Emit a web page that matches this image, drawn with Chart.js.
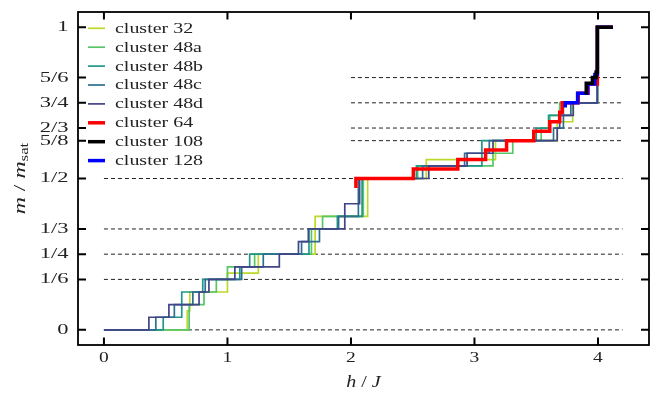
<!DOCTYPE html>
<html>
<head>
<meta charset="utf-8">
<script src="https://cdn.jsdelivr.net/npm/chart.js@4.4.1/dist/chart.umd.min.js"></script>
<style>
  html, body { margin: 0; padding: 0; background: #fff; }
  #wrap { width: 659px; height: 396px; }
</style>
</head>
<body>
<div id="wrap"><canvas id="magChart" width="659" height="396"></canvas></div>
<script>
// axis ticks
const fieldTicks = [0, 1, 2, 3, 4];
const fieldTickLabels = ["0", "1", "2", "3", "4"];
const magTicks = [0, 1/6, 1/4, 1/3, 1/2, 5/8, 2/3, 3/4, 5/6, 1];
const magTickLabels = ["0", "1/6", "1/4", "1/3", "1/2", "5/8", "2/3", "3/4", "5/6", "1"];

// dashed plateau guides
const lowPlateaus = [0, 1/6, 1/4, 1/3, 1/2];
const lowPlateauRange = [0, 4.2];
const highPlateaus = [5/8, 2/3, 3/4, 5/6];
const highPlateauRange = [2, 4.2];

const seriesNames = ["cluster 32", "cluster 48a", "cluster 48b", "cluster 48c",
                     "cluster 48d", "cluster 64", "cluster 108", "cluster 128"];
const seriesColors = ["#bcd92a", "#56c667", "#21978b", "#2e6e8e",
                      "#414487", "#ff0000", "#000000", "#0000ff"];

// step curves: field where the magnetization jumps, and level after the jump
// (levels given as numerators over the cluster's denominator)
const c32H  = [0, 0.675, 0.695, 1.00, 1.25, 1.71, 2.135, 2.61, 3.17, 3.67, 3.795, 3.995, 4.12];
const c32M  = [0, 1, 2, 3, 4, 6, 8, 9, 10, 11, 12, 16, 16];
const c32D  = 16;

const c48aH = [0, 0.69, 0.81, 0.91, 1.00, 1.22, 1.68, 1.77, 2.10, 2.54, 3.15, 3.31, 3.54, 3.61, 3.69, 3.995, 4.12];
const c48aM = [0, 2, 3, 4, 5, 6, 8, 9, 12, 13, 14, 15, 16, 17, 18, 24, 24];

const c48bH = [0, 0.48, 0.63, 0.80, 1.10, 1.18, 1.66, 1.89, 2.09, 2.53, 3.06, 3.50, 3.60, 3.72, 3.995, 4.12];
const c48bM = [0, 1, 3, 4, 5, 6, 8, 9, 12, 13, 15, 16, 17, 18, 24, 24];

const c48cH = [0, 0.42, 0.57, 0.72, 0.82, 1.115, 1.29, 1.60, 1.745, 1.90, 2.06, 2.58, 2.92, 3.12, 3.64, 3.72, 3.78, 3.995, 4.12];
const c48cM = [0, 1, 2, 3, 4, 5, 6, 7, 8, 9, 12, 13, 14, 15, 16, 17, 18, 24, 24];

const c48dH = [0, 0.364, 0.526, 0.77, 0.85, 1.06, 1.42, 1.575, 1.655, 1.95, 2.07, 2.63, 2.94, 3.15, 3.67, 3.69, 3.80, 3.995, 4.12];
const c48dM = [0, 1, 2, 3, 4, 5, 6, 7, 8, 10, 12, 13, 14, 15, 16, 17, 18, 24, 24];
const c48D  = 24;

const c64H  = [2.04, 2.04, 2.505, 2.865, 3.09, 3.26, 3.48, 3.61, 3.69, 3.71, 3.84, 3.92, 3.995, 4.12];
const c64M  = [15, 16, 17, 18, 19, 20, 21, 22, 23, 24, 25, 26, 32, 32];
const c64D  = 32;

const c108H = [3.905, 3.905, 3.955, 3.985, 3.995, 4.12];
const c108M = [42, 44, 45, 46, 54, 54];
const c108D = 54;

const c128H = [3.735, 3.735, 3.835, 3.915, 3.975, 3.995, 4.12];
const c128M = [47, 48, 50, 52, 54, 64, 64];
const c128D = 64;

const thinWidth = 1.7;
const thickWidth = 3.5;
const seriesWidths = [thinWidth, thinWidth, thinWidth, thinWidth, thinWidth, thickWidth, thickWidth, thickWidth];

function toPoints(hs, ms, denom) {
    return hs.map((h, i) => ({ x: h, y: ms[i] / denom }));
}

const curveData = [
    toPoints(c32H, c32M, c32D),
    toPoints(c48aH, c48aM, c48D),
    toPoints(c48bH, c48bM, c48D),
    toPoints(c48cH, c48cM, c48D),
    toPoints(c48dH, c48dM, c48D),
    toPoints(c64H, c64M, c64D),
    toPoints(c108H, c108M, c108D),
    toPoints(c128H, c128M, c128D),
];
// stacking: black on top, then blue, red, 48d ... 32 at the bottom
const drawOrder = [8, 7, 6, 5, 4, 3, 1, 2];

const datasets = curveData.map((pts, i) => ({
    label: seriesNames[i],
    data: pts,
    borderColor: seriesColors[i],
    borderWidth: seriesWidths[i],
    stepped: "before",
    pointRadius: 0,
    fill: false,
    order: drawOrder[i],
    borderJoinStyle: "miter",
}));

function plateauSet(level, range) {
    return {
        label: "",
        data: [{ x: range[0], y: level }, { x: range[1], y: level }],
        borderColor: "#222",
        borderWidth: 1,
        borderDash: [4, 3],
        pointRadius: 0,
        fill: false,
        order: 20,
    };
}
lowPlateaus.forEach(v => datasets.push(plateauSet(v, lowPlateauRange)));
highPlateaus.forEach(v => datasets.push(plateauSet(v, highPlateauRange)));

const serif = "Liberation Serif";
const textColor = "#222";

// the reference lettering is wide, so text is drawn stretched sideways
function wideText(ctx, text, x, y, align, sx) {
    const w = ctx.measureText(text).width * sx;
    const left = align === "right" ? x - w : align === "center" ? x - w / 2 : x;
    ctx.save();
    ctx.translate(left, y);
    ctx.scale(sx, 1);
    ctx.textAlign = "left";
    ctx.fillText(text, 0, 0);
    ctx.restore();
    return w;
}

// frame with inward ticks on all four sides, plus tick labels
const frameTicks = {
    id: "frameTicks",
    afterDatasetsDraw(chart) {
        const { ctx, chartArea: a, scales } = chart;
        ctx.save();
        ctx.strokeStyle = "#000";
        ctx.lineWidth = 1.8;
        ctx.strokeRect(a.left, a.top, a.right - a.left, a.bottom - a.top);
        ctx.lineWidth = 2;
        ctx.beginPath();
        fieldTicks.forEach(v => {
            const x = scales.x.getPixelForValue(v);
            ctx.moveTo(x, a.bottom); ctx.lineTo(x, a.bottom - 7.5);
            ctx.moveTo(x, a.top); ctx.lineTo(x, a.top + 7.5);
        });
        magTicks.forEach(v => {
            const y = scales.y.getPixelForValue(v);
            ctx.moveTo(a.left, y); ctx.lineTo(a.left + 8, y);
            ctx.moveTo(a.right, y); ctx.lineTo(a.right - 8, y);
        });
        ctx.stroke();

        ctx.fillStyle = textColor;
        ctx.font = `15px "${serif}"`;
        ctx.textBaseline = "middle";
        fieldTicks.forEach((v, i) => {
            wideText(ctx, fieldTickLabels[i], scales.x.getPixelForValue(v), a.bottom + 13.5, "center", 1.3);
        });
        magTicks.forEach((v, i) => {
            wideText(ctx, magTickLabels[i], a.left - 9.5, scales.y.getPixelForValue(v), "right", 1.5);
        });
        ctx.restore();
    }
};

// legend inside the plot and the two axis titles
const labelsPlugin = {
    id: "labelsPlugin",
    afterDraw(chart) {
        const { ctx, chartArea: a } = chart;
        ctx.save();
        ctx.textBaseline = "middle";
        ctx.fillStyle = textColor;
        ctx.font = `15px "${serif}"`;
        seriesNames.forEach((name, i) => {
            const y = 28.3 + i * 18.9;
            ctx.strokeStyle = seriesColors[i];
            ctx.lineWidth = seriesWidths[i];
            ctx.beginPath();
            ctx.moveTo(88, y);
            ctx.lineTo(105, y);
            ctx.stroke();
            wideText(ctx, name, 115, y + 0.5, "left", 1.33);
        });

        // x title: h / J
        const parts = [
            { t: "h", f: `italic 16px "${serif}"` },
            { t: " / ", f: `16px "${serif}"` },
            { t: "J", f: `italic 16px "${serif}"` },
        ];
        const sx = 1.25;
        let w = 0;
        parts.forEach(p => { ctx.font = p.f; w += ctx.measureText(p.t).width * sx; });
        let x = (a.left + a.right) / 2 - w / 2;
        parts.forEach(p => { ctx.font = p.f; x += wideText(ctx, p.t, x, 383, "left", sx); });

        // y title: m / m_sat, stretched along its reading direction
        ctx.translate(21, (a.top + a.bottom) / 2);
        ctx.rotate(-Math.PI / 2);
        const yParts = [
            { t: "m", f: `italic 17px "${serif}"`, dy: 0 },
            { t: " / ", f: `17px "${serif}"`, dy: 0 },
            { t: "m", f: `italic 17px "${serif}"`, dy: 0 },
            { t: "sat", f: `12px "${serif}"`, dy: 3.5 },
        ];
        const sy = 1.4;
        w = 0;
        yParts.forEach(p => { ctx.font = p.f; w += ctx.measureText(p.t).width * sy; });
        x = -w / 2;
        yParts.forEach(p => { ctx.font = p.f; x += wideText(ctx, p.t, x, p.dy, "left", sy); });
        ctx.restore();
    }
};

const ctx = document.getElementById("magChart").getContext("2d");
new Chart(ctx, {
    type: "line",
    data: { datasets: datasets },
    options: {
        responsive: false,
        animation: false,
        layout: { padding: { top: 12, right: 10, bottom: 0, left: 0 } },
        plugins: { legend: { display: false }, tooltip: { enabled: false } },
        scales: {
            x: {
                type: "linear",
                min: -0.21,
                max: 4.413,
                grid: { display: false },
                border: { display: false },
                ticks: { display: false },
                afterBuildTicks: s => { s.ticks = fieldTicks.map(v => ({ value: v })); },
                afterFit: s => { s.height = 51; s.paddingLeft = 0; s.paddingRight = 0; },
            },
            y: {
                type: "linear",
                min: -0.05,
                max: 1.05,
                grid: { display: false },
                border: { display: false },
                ticks: { display: false },
                afterBuildTicks: s => { s.ticks = magTicks.map(v => ({ value: v })); },
                afterFit: s => { s.width = 78; s.paddingTop = 0; s.paddingBottom = 0; },
            },
        },
    },
    plugins: [frameTicks, labelsPlugin],
});
</script>
</body>
</html>
